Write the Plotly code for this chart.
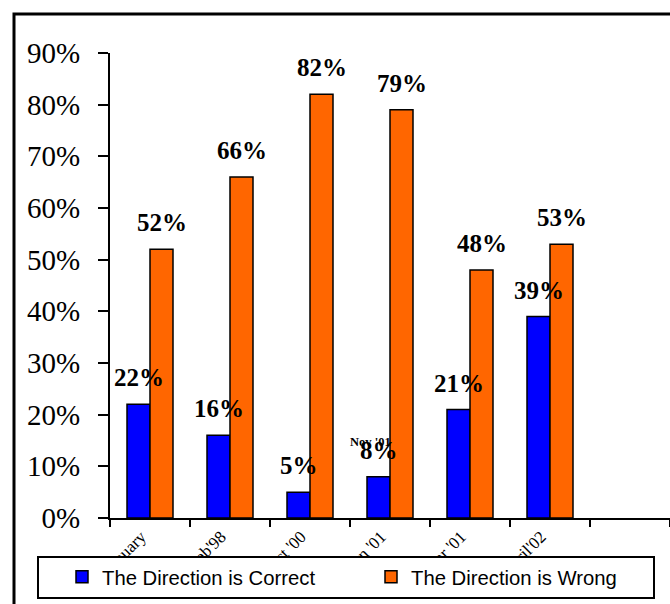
import plotly.graph_objects as go

# Survey waves and responses (percent)
categories = ["January", "Feb'98", "Oct '00", "Jan '01", "Apr '01", "April'02", " "]
correct = [22, 16, 5, 8, 21, 39, None]
wrong = [52, 66, 82, 79, 48, 53, None]
y_ticks = [0, 10, 20, 30, 40, 50, 60, 70, 80, 90]
y_tick_text = [f"{v}%" for v in y_ticks]

BLUE = "#0000FF"
ORANGE = "#FF6600"
SERIF = "Liberation Serif, Times New Roman, serif"
SANS = "Liberation Sans, Arial, sans-serif"

fig = go.Figure()
fig.add_trace(go.Bar(
    x=categories, y=correct, name="The Direction is Correct",
    marker=dict(color=BLUE, line=dict(color="black", width=1.5)),
    legend="legend",
))
fig.add_trace(go.Bar(
    x=categories, y=wrong, name="The Direction is Wrong",
    marker=dict(color=ORANGE, line=dict(color="black", width=1.5)),
    legend="legend2",
))

# Value labels above each bar
annotations = []
half_bar = 11.5
for cat, c, w in zip(categories, correct, wrong):
    for val, shift in ((c, -half_bar), (w, half_bar)):
        if val is None:
            continue
        annotations.append(dict(
            x=cat, y=val, xref="x", yref="y", text=f"{val}%",
            showarrow=False, yanchor="bottom", xanchor="center",
            xshift=shift, yshift=11,
            font=dict(family=SERIF, size=25, color="black", weight="bold"),
        ))

# Small stray label sitting over the fourth group
annotations.append(dict(
    x=categories[3], y=14.7, xref="x", yref="y", text="Nov '01",
    showarrow=False, xanchor="center", yanchor="middle", xshift=-20,
    font=dict(family=SERIF, size=12.5, color="black", weight="bold"),
))

def px_x(p):
    return (p - 110) / 560

def px_y(p):
    return (518 - p) / 465

shapes = [
    # outer frame (left and top edges)
    dict(type="path", xref="paper", yref="paper",
         path=f"M {px_x(14)},{px_y(610)} L {px_x(14)},{px_y(14)} L {px_x(680)},{px_y(14)}",
         line=dict(color="black", width=3), layer="above"),
    # legend box
    dict(type="rect", xref="paper", yref="paper",
         x0=px_x(38), x1=px_x(654), y0=px_y(598), y1=px_y(557),
         fillcolor="white", line=dict(color="black", width=2), layer="above"),
]

fig.update_layout(
    width=670, height=604,
    margin=dict(l=110, r=0, t=53, b=86),
    paper_bgcolor="white", plot_bgcolor="white",
    barmode="group", bargap=0.425, bargroupgap=0,
    showlegend=True,
    legend=dict(
        orientation="h", x=px_x(62), y=px_y(577), xanchor="left", yanchor="middle",
        bgcolor="rgba(0,0,0,0)", borderwidth=0,
        font=dict(family=SANS, size=20.3, color="black"),
    ),
    legend2=dict(
        orientation="h", x=px_x(371), y=px_y(577), xanchor="left", yanchor="middle",
        bgcolor="rgba(0,0,0,0)", borderwidth=0,
        font=dict(family=SANS, size=20.3, color="black"),
    ),
    xaxis=dict(
        type="category", range=[-0.5, 6.5],
        showline=True, linecolor="black", linewidth=2,
        ticks="outside", tickson="boundaries", ticklen=7, tickwidth=2, tickcolor="black",
        tickangle=-45, ticklabelshift=-9,
        tickfont=dict(family=SERIF, size=17, color="black"),
        showgrid=False, zeroline=False,
    ),
    yaxis=dict(
        range=[0, 90], tickvals=y_ticks, ticktext=y_tick_text,
        showline=True, linecolor="black", linewidth=2,
        ticks="outside", ticklen=10, tickwidth=2, tickcolor="black",
        ticklabelstandoff=12,
        tickfont=dict(family=SERIF, size=29, color="black"),
        showgrid=False, zeroline=False,
    ),
    annotations=annotations,
    shapes=shapes,
)

fig.write_html("out.html")
